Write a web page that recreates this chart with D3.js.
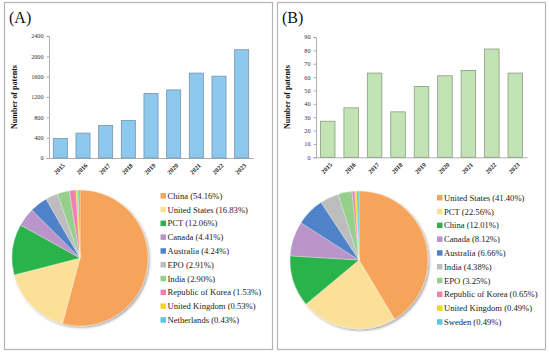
<!DOCTYPE html>
<html><head><meta charset="utf-8">
<script src="https://cdn.jsdelivr.net/npm/d3@7"></script>
<style>body{margin:0;background:#fff}svg{display:block}</style>
</head><body>
<script>
const years = ["2015","2016","2017","2018","2019","2020","2021","2022","2023"];
const patentsA = [385, 490, 640, 740, 1270, 1340, 1670, 1610, 2130];
const patentsB = [27, 37, 63, 34, 53, 61, 65, 81, 63];
const ticksA = [0, 400, 800, 1200, 1600, 2000, 2400];
const ticksB = [0, 10, 20, 30, 40, 50, 60, 70, 80, 90];
const pieLabelsA = ["China","United States","PCT","Canada","Australia","EPO","India","Republic of Korea","United Kingdom","Netherlands"];
const pieValuesA = [54.16, 16.83, 12.06, 4.41, 4.24, 2.91, 2.90, 1.53, 0.53, 0.43];
const pieColorsA = ["#F6A45B","#FBE09A","#2BB24C","#B995CA","#4F82C8","#BDBDBD","#94CF8C","#EF80B5","#F3D814","#5CC6DA"];
const pieLabelsB = ["United States","PCT","China","Canada","Australia","India","EPO","Republic of Korea","United Kingdom","Sweden"];
const pieValuesB = [41.40, 22.56, 12.01, 8.12, 6.66, 4.38, 3.25, 0.65, 0.49, 0.49];
const pieColorsB = ["#F6A45B","#FBE09A","#2BB24C","#B995CA","#4F82C8","#BDBDBD","#94CF8C","#EF80B5","#F3D814","#5CC6DA"];

const W = 550, H = 353;
const svg = d3.select("body").append("svg").attr("width", W).attr("height", H);
const font = "'Liberation Serif', 'DejaVu Serif', serif";

const defs = svg.append("defs");
const f = defs.append("filter").attr("id","sh").attr("x","-20%").attr("y","-20%").attr("width","140%").attr("height","140%");
f.append("feDropShadow").attr("dx",1.5).attr("dy",1.5).attr("stdDeviation",1.2).attr("flood-color","#000").attr("flood-opacity",0.35);

function panel(cfg) {
  const g = svg.append("g");
  g.append("rect").attr("x", cfg.box[0]+0.5).attr("y", cfg.box[1]+0.5)
    .attr("width", cfg.box[2]-cfg.box[0]).attr("height", cfg.box[3]-cfg.box[1])
    .attr("fill","#fff").attr("stroke","#b5b5b5").attr("stroke-width",1.2);
  g.append("text").attr("x", cfg.labelX).attr("y", 23).text(cfg.label)
    .attr("font-family", font).attr("font-size", 16).attr("fill","#111");

  const x = d3.scaleBand().domain(years).range([cfg.x0, cfg.x1]).paddingInner(0.38).paddingOuter(0.19);
  const y = d3.scaleLinear().domain([0, cfg.ymax]).range([cfg.yb, cfg.yt]);

  const yAxis = g.append("g").attr("transform", `translate(${cfg.x0},0)`)
    .call(d3.axisLeft(y).tickValues(cfg.ticks).tickFormat(d3.format("d")).tickSize(2.5).tickPadding(3));
  yAxis.selectAll("path,line").attr("stroke","#9a9a9a").attr("stroke-width",0.8);
  yAxis.selectAll("text").attr("font-family", font).attr("font-size", 6.2).attr("fill","#333");

  const xAxis = g.append("g").attr("transform", `translate(0,${cfg.yb})`)
    .call(d3.axisBottom(x).tickSize(0).tickPadding(0));
  xAxis.select("path").attr("stroke","#9a9a9a").attr("stroke-width",0.8);
  xAxis.selectAll("text").attr("font-family", font).attr("font-size", 6.3).attr("font-weight","bold").attr("fill","#222")
    .attr("text-anchor","end").attr("dy","0").attr("y", 0)
    .attr("transform", "translate(5,8) rotate(-45)");

  g.selectAll("rect.bar").data(cfg.values).join("rect").attr("class","bar")
    .attr("x", (d,i) => x(years[i])).attr("width", x.bandwidth())
    .attr("y", d => y(d)).attr("height", d => cfg.yb - y(d))
    .attr("fill", cfg.barFill).attr("stroke", cfg.barStroke).attr("stroke-width", 0.8);

  g.append("text").attr("transform", `translate(${cfg.ylabX},${(cfg.yb+cfg.yt)/2}) rotate(-90)`)
    .attr("text-anchor","middle").text("Number of patents")
    .attr("font-family", font).attr("font-size", 8).attr("font-weight","bold").attr("fill","#111");

  const pie = d3.pie().sort(null).value(d => d)(cfg.pieValues);
  const arc = d3.arc().innerRadius(0).outerRadius(cfg.r);
  const pg = g.append("g").attr("transform", `translate(${cfg.cx},${cfg.cy})`).attr("filter","url(#sh)");
  pg.selectAll("path").data(pie).join("path").attr("d", arc)
    .attr("fill", (d,i) => cfg.pieColors[i]).attr("stroke","#fff").attr("stroke-width",0.3);

  const lg = g.append("g");
  cfg.pieLabels.forEach((lab, i) => {
    const yy = cfg.ly + i * 13.8;
    lg.append("rect").attr("x", cfg.lx).attr("y", yy - 3).attr("width", 5.5).attr("height", 5.5).attr("fill", cfg.pieColors[i]);
    lg.append("text").attr("x", cfg.lx + 7).attr("y", yy + 2.8)
      .text(`${lab} (${cfg.pieValues[i].toFixed(2)}%)`)
      .attr("font-family", font).attr("font-size", 8.6).attr("fill","#222");
  });
}

panel({box:[4,2,272,349], label:"(A)", labelX:9, x0:49, x1:253, yb:158, yt:36, ymax:2400, ticks:ticksA,
  values:patentsA, barFill:"#8DC9EE", barStroke:"#7894aa", ylabX:17,
  cx:80, cy:258, r:68, pieValues:pieValuesA, pieLabels:pieLabelsA, pieColors:pieColorsA, lx:160.5, ly:196});
panel({box:[277,2,545,349], label:"(B)", labelX:282, x0:316, x1:527, yb:157.3, yt:37, ymax:90, ticks:ticksB,
  values:patentsB, barFill:"#C2E3B4", barStroke:"#8c9a88", ylabX:290,
  cx:359, cy:260, r:69, pieValues:pieValuesB, pieLabels:pieLabelsB, pieColors:pieColorsB, lx:437, ly:198});
</script>
</body></html>
